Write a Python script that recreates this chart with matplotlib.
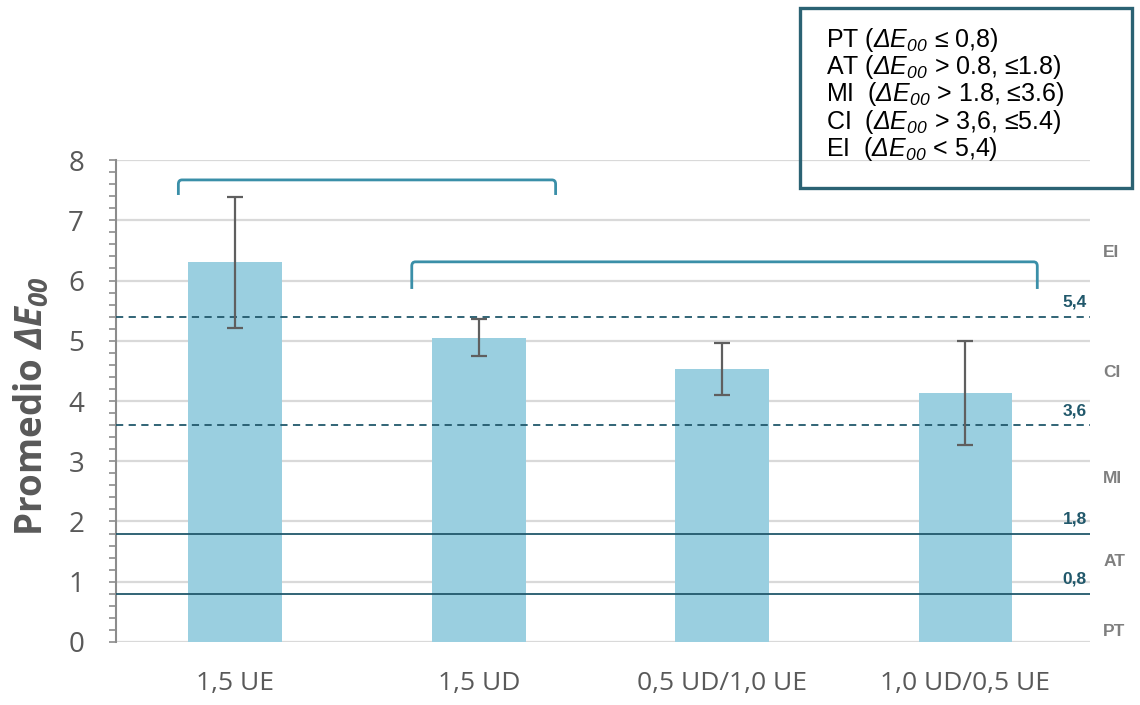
import numpy as np
import matplotlib.pyplot as plt
from matplotlib.path import Path
from matplotlib.patches import PathPatch, Rectangle
from matplotlib.ticker import MultipleLocator
import matplotlib.transforms as mtransforms

plt.rcParams['font.family'] = ['Open Sans', 'DejaVu Sans']
plt.rcParams['mathtext.fontset'] = 'custom'
plt.rcParams['mathtext.rm'] = 'Liberation Sans'
plt.rcParams['mathtext.it'] = 'Liberation Sans:italic'
plt.rcParams['mathtext.sf'] = 'Liberation Sans:italic'
plt.rcParams['mathtext.bf'] = 'Open Sans:bold'
plt.rcParams['mathtext.bfit'] = 'Open Sans:bold:italic'

# Mean colour difference per treatment, with its standard deviation
groups = ['1,5 UE', '1,5 UD', '0,5 UD/1,0 UE', '1,0 UD/0,5 UE']
mean_de = [6.30, 5.05, 4.53, 4.13]
sd_de = [1.08, 0.31, 0.43, 0.86]

# Perceptibility / acceptability thresholds
thresholds = [0.8, 1.8, 3.6, 5.4]
threshold_text = ['0,8', '1,8', '3,6', '5,4']
threshold_style = ['-', '-', '--', '--']

# Zone names on the right-hand side
zones = ['PT', 'AT', 'MI', 'CI', 'EI']
zone_y = [0.17, 1.33, 2.72, 4.48, 6.46]

de = r'$\mathsf{\Delta E}_{\mathsf{00}}$'
legend_lines = [
    f'PT ({de} ≤ 0,8)',
    f'AT ({de} > 0.8, ≤1.8)',
    f'MI  ({de} > 1.8, ≤3.6)',
    f'CI  ({de} > 3,6, ≤5.4)',
    f'EI  ({de} < 5,4)',
]

teal = '#21586b'
bracket_col = '#3a8fa8'
grey_txt = '#595959'

fig = plt.figure(figsize=(11.4, 7.05), dpi=100)
ax = fig.add_axes([0.1018, 0.0894, 0.854, 0.6836])

x = np.arange(len(groups))
ax.set_xlim(-0.49, 3.51)
ax.set_ylim(0, 8)

# grid
for v in range(0, 9):
    ax.axhline(v, color='#d9d9d9', lw=1.6, zorder=0)

ax.bar(x, mean_de, width=0.385, color='#9acfe0', zorder=2)
ax.errorbar(x, mean_de, yerr=sd_de, fmt='none', ecolor='#5f5f5f',
            elinewidth=1.6, capsize=6, capthick=1.6, zorder=4)

for t, lab, ls in zip(thresholds, threshold_text, threshold_style):
    ax.axhline(t, color=teal, lw=1.3, ls=ls, dashes=(4, 3) if ls == '--' else (None, None),
               zorder=3)
    ax.annotate(lab, xy=(0.997, t), xycoords=('axes fraction', 'data'),
                xytext=(0, 5), textcoords='offset points', ha='right', va='bottom',
                fontsize=12.5, fontweight='bold', color=teal,
                family=['Liberation Sans'])

trans = mtransforms.blended_transform_factory(ax.transAxes, ax.transData)
for z, zy in zip(zones, zone_y):
    ax.text(1.014, zy, z, transform=trans, ha='left', va='center',
            fontsize=12.5, fontweight='bold', color='#7f7f7f',
            family=['Liberation Sans'], clip_on=False)

# brackets over the compared groups
bracket_geom = [(-0.234, 1.316, 7.42, 7.67), (0.725, 3.295, 5.86, 6.31)]
for (x0, x1, yb, yt) in bracket_geom:
    rx, ry = 0.015, 0.07
    verts = [(x0, yb), (x0, yt - ry), (x0, yt), (x0 + rx, yt),
             (x1 - rx, yt), (x1, yt), (x1, yt - ry), (x1, yb)]
    codes = [Path.MOVETO, Path.LINETO, Path.CURVE3, Path.CURVE3,
             Path.LINETO, Path.CURVE3, Path.CURVE3, Path.LINETO]
    ax.add_patch(PathPatch(Path(verts, codes), fill=False, ec=bracket_col,
                           lw=2, zorder=5, clip_on=False))

# axes styling
for s in ['top', 'right', 'bottom']:
    ax.spines[s].set_visible(False)
ax.spines['left'].set_color('#8c8c8c')
ax.spines['left'].set_linewidth(1.5)
ax.yaxis.set_major_locator(MultipleLocator(1))
ax.yaxis.set_minor_locator(MultipleLocator(0.2))
ax.tick_params(axis='y', which='both', direction='out', length=5, width=1.2,
               color='#8c8c8c', labelsize=20, labelcolor=grey_txt, pad=18)
ax.tick_params(axis='x', length=0, labelsize=19, labelcolor=grey_txt, pad=21)
ax.set_xticks(x)
ax.set_xticklabels(groups)
ax.set_ylabel(r'Promedio $\mathbfit{\Delta E_{00}}$', fontsize=26.5,
              fontweight='bold', color=grey_txt)
ax.yaxis.set_label_coords(-0.066, 0.49)

# legend box with the threshold definitions
fig.add_artist(Rectangle((0.702, 0.733), 0.291, 0.2557, transform=fig.transFigure,
                         fill=False, ec='#2b6273', lw=2.4))
for i, line in enumerate(legend_lines):
    fig.text(0.7245, 0.943 - i * 0.0385, line, ha='left', va='center',
             fontsize=18, color='black', family=['Liberation Sans', 'DejaVu Sans'])

fig.savefig('out.png', dpi=100)
